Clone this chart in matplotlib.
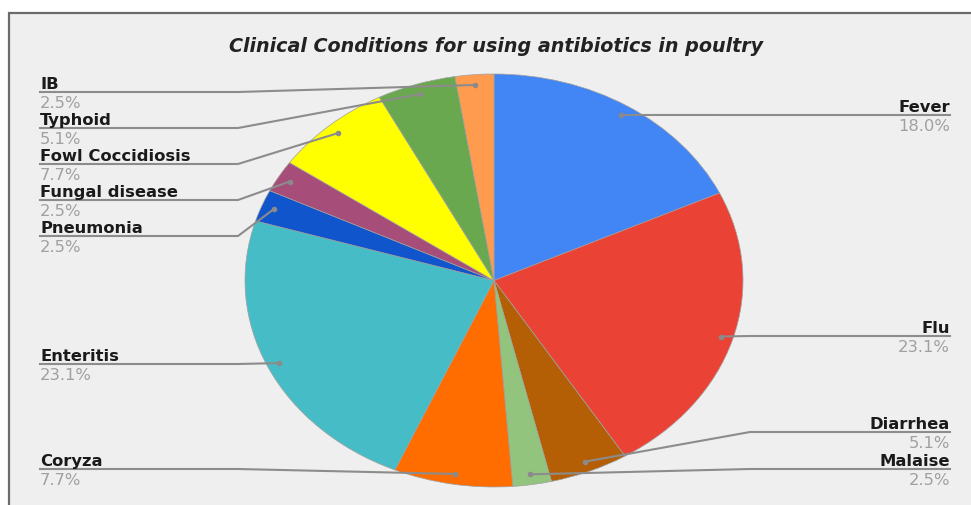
import numpy as np
import matplotlib
matplotlib.use("Agg")
import matplotlib.pyplot as plt
from matplotlib.patches import Rectangle
from matplotlib.lines import Line2D

plt.rcParams['font.family'] = ['DejaVu Sans']

conditions = ["Fever", "Flu", "Diarrhea", "Malaise", "Coryza", "Enteritis",
              "Pneumonia", "Fungal disease", "Fowl Coccidiosis", "Typhoid", "IB"]
percents = [18.0, 23.1, 5.1, 2.5, 7.7, 23.1, 2.5, 2.5, 7.7, 5.1, 2.5]
colors = ["#4285F4", "#EA4335", "#B45F06", "#93C47D", "#FF6D01", "#46BDC6",
          "#1155CC", "#A64D79", "#FFFF00", "#6AA84F", "#FF9B4F"]

# label placement (pixels from top-left): side, underline y
label_pos = {
    "Fever": ("right", 116), "Flu": ("right", 337), "Diarrhea": ("right", 433),
    "Malaise": ("right", 470), "Coryza": ("left", 470), "Enteritis": ("left", 365),
    "Pneumonia": ("left", 237), "Fungal disease": ("left", 201),
    "Fowl Coccidiosis": ("left", 165), "Typhoid": ("left", 129), "IB": ("left", 93),
}

W, H = 971, 506
fig = plt.figure(figsize=(W / 100, H / 100), dpi=100)
fig.patch.set_facecolor("white")

def fx(px):
    return px / W

def fy(py):
    return 1 - py / H

bg = Rectangle((fx(9), -0.05), 1.0, fy(14) + 0.05, transform=fig.transFigure,
               facecolor="#EFEFEF", edgecolor="#6b6b6b", linewidth=1.6, zorder=-5)
fig.patches.append(bg)

ax = fig.add_axes([fx(245), fy(488), fx(743) - fx(245), (488 - 75) / H])
ax.set_zorder(1)
wedges, _ = ax.pie(percents, colors=colors, startangle=90, counterclock=False,
                   radius=1, wedgeprops=dict(edgecolor="#a0a0a0", linewidth=0.5))
ax.set_aspect("auto")
ax.set_xlim(-1, 1)
ax.set_ylim(-1, 1)
ax.axis("off")

fig.text(fx(496), fy(47), "Clinical Conditions for using antibiotics in poultry",
         ha="center", va="center", fontsize=13.8, fontweight="bold", style="italic",
         color="#222222")

fig.canvas.draw()
to_fig = fig.transFigure.inverted()
line_col = "#8c8c8c"
for w, name, pct in zip(wedges, conditions, percents):
    mid = np.deg2rad((w.theta1 + w.theta2) / 2)
    ax_pt = ax.transData.transform((0.95 * np.cos(mid), 0.95 * np.sin(mid)))
    axf, ayf = to_fig.transform(ax_pt)
    side, ly = label_pos[name]
    if side == "left":
        x0, elbow, ha = fx(40), fx(238), "left"
    else:
        x0, elbow, ha = fx(950), fx(750), "right"
    xs = [x0, elbow, axf]
    ys = [fy(ly), fy(ly), ayf]
    fig.lines.append(Line2D(xs, ys, transform=fig.transFigure, color=line_col,
                            linewidth=1.5, zorder=5))
    fig.lines.append(Line2D([axf], [ayf], transform=fig.transFigure, marker="o",
                            markersize=3, color="#8a8a8a", zorder=6))
    fig.text(x0, fy(ly - 4), name, ha=ha, va="baseline", fontsize=11.8,
             fontweight="bold", color="#1a1a1a", zorder=7)
    fig.text(x0, fy(ly + 3), f"{pct:.1f}%", ha=ha, va="top", fontsize=11.8,
             color="#a0a0a0", zorder=7)

fig.savefig("out.png", dpi=100, facecolor=fig.get_facecolor())
